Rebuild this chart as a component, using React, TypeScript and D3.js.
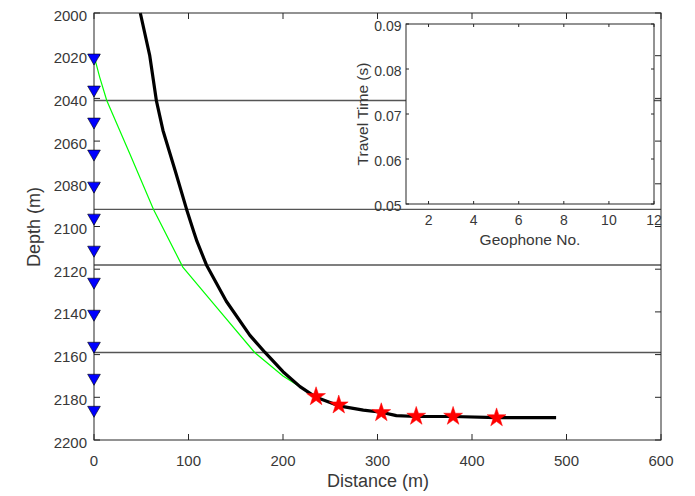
import React from "react";
import * as d3 from "d3";

const xTicks = [0, 100, 200, 300, 400, 500, 600];
const yTicks = [2000, 2020, 2040, 2060, 2080, 2100, 2120, 2140, 2160, 2180, 2200];
const layerDepths = [2041, 2092, 2118, 2159];
const geophoneDepths = [2020, 2035, 2050, 2065, 2080, 2095, 2110, 2125, 2140, 2155, 2170, 2185];
const wellX = [49, 59, 66, 73, 86, 98, 106, 109, 119, 140, 165, 181, 200, 218, 235, 259, 285, 304, 320, 341, 380, 426, 489];
const wellD = [2000, 2020, 2041, 2055, 2074, 2092, 2103, 2107, 2118, 2135, 2151, 2159, 2168, 2175, 2180, 2184, 2186, 2187, 2188.6, 2189, 2189, 2189.5, 2189.5];
const rayX = [0, 6, 13.5, 38, 63, 94, 130, 170, 200, 225, 235];
const rayD = [2020, 2030, 2041, 2066, 2092, 2119, 2138, 2159, 2170, 2177, 2180];
const starX = [235, 259, 304, 341, 380, 426];
const starD = [2179.7, 2183.6, 2187.2, 2188.9, 2188.9, 2189.6];
const insetXTicks = [2, 4, 6, 8, 10, 12];
const insetYTicks = [0.05, 0.06, 0.07, 0.08, 0.09];

const FONT = "'Liberation Sans', Arial, sans-serif";
const AX = "#262626";
const TXT = "#383838";

export default function App() {
  const x = d3.scaleLinear().domain([0, 600]).range([94, 661]);
  const y = d3.scaleLinear().domain([2000, 2200]).range([13, 440]);
  const ix = d3.scaleLinear().domain([1, 12]).range([406, 654]);
  const iy = d3.scaleLinear().domain([0.05, 0.09]).range([204, 24]);

  const line = d3
    .line<number>()
    .x((_, i) => x(wellX[i]))
    .y((_, i) => y(wellD[i]))
    .curve(d3.curveLinear);
  const ray = d3
    .line<number>()
    .x((_, i) => x(rayX[i]))
    .y((_, i) => y(rayD[i]));

  const tri = d3.symbol().type(d3.symbolTriangle).size(70)();
  const star = d3.symbol().type(d3.symbolStar).size(110)();

  return (
    <svg
      width={695}
      height={496}
      style={{ position: "absolute", left: 0, top: 0, background: "#fff" }}
      fontFamily={FONT}
    >
      <rect x={0} y={0} width={695} height={496} fill="#fff" />
      {layerDepths.map((d) => (
        <line key={d} x1={x(0)} x2={x(600)} y1={y(d)} y2={y(d)} stroke="#555" strokeWidth={1.4} />
      ))}
      <path d={ray(rayX) || ""} fill="none" stroke="#00ff00" strokeWidth={1.2} />
      <path d={line(wellX) || ""} fill="none" stroke="#000" strokeWidth={3.2} strokeLinejoin="round" />
      {starX.map((v, i) => (
        <path key={i} d={star || ""} transform={`translate(${x(v)},${y(starD[i])})`} fill="#ff0000" stroke="#ff0000" strokeWidth={0.5} />
      ))}
      <rect x={x(0)} y={y(2000)} width={x(600) - x(0)} height={y(2200) - y(2000)} fill="none" stroke={AX} strokeWidth={1} />
      {xTicks.map((t) => (
        <g key={t}>
          <line x1={x(t)} x2={x(t)} y1={y(2200)} y2={y(2200) - 6} stroke={AX} />
          <line x1={x(t)} x2={x(t)} y1={y(2000)} y2={y(2000) + 6} stroke={AX} />
          <text x={x(t)} y={466} fontSize={15} fill={TXT} textAnchor="middle">
            {t}
          </text>
        </g>
      ))}
      {yTicks.map((t) => (
        <g key={t}>
          <line x1={x(0)} x2={x(0) + 6} y1={y(t)} y2={y(t)} stroke={AX} />
          <line x1={x(600)} x2={x(600) - 6} y1={y(t)} y2={y(t)} stroke={AX} />
          <text x={87} y={y(t) + 7.5} fontSize={15} fill={TXT} textAnchor="end">
            {t}
          </text>
        </g>
      ))}
      {geophoneDepths.map((d) => (
        <path key={d} d={tri || ""} transform={`translate(${x(0)},${y(d) + 2}) rotate(180)`} fill="#0000ff" stroke="#000" strokeWidth={0.6} />
      ))}
      <text x={378} y={487} fontSize={18} fill={TXT} textAnchor="middle">
        Distance (m)
      </text>
      <text transform="translate(40,227) rotate(-90)" fontSize={18} fill={TXT} textAnchor="middle">
        Depth (m)
      </text>
      {/* inset */}
      <rect x={ix(1)} y={iy(0.09)} width={ix(12) - ix(1)} height={iy(0.05) - iy(0.09)} fill="#fff" stroke={AX} strokeWidth={1} />
      {insetXTicks.map((t) => (
        <g key={t}>
          <line x1={ix(t)} x2={ix(t)} y1={iy(0.05)} y2={iy(0.05) - 3} stroke={AX} />
          <line x1={ix(t)} x2={ix(t)} y1={iy(0.09)} y2={iy(0.09) + 3} stroke={AX} />
          <text x={ix(t)} y={225} fontSize={14} fill={TXT} textAnchor="middle">
            {t}
          </text>
        </g>
      ))}
      {insetYTicks.map((t) => (
        <g key={t}>
          <line x1={ix(1)} x2={ix(1) + 3} y1={iy(t)} y2={iy(t)} stroke={AX} />
          <line x1={ix(12)} x2={ix(12) - 3} y1={iy(t)} y2={iy(t)} stroke={AX} />
          <text x={401.5} y={iy(t) + 6.5} fontSize={14} fill={TXT} textAnchor="end">
            {t.toFixed(2)}
          </text>
        </g>
      ))}
      <text x={530} y={245} fontSize={15.5} fill={TXT} textAnchor="middle">
        Geophone No.
      </text>
      <text transform="translate(368,114) rotate(-90)" fontSize={15.5} fill={TXT} textAnchor="middle">
        Travel Time (s)
      </text>
    </svg>
  );
}
